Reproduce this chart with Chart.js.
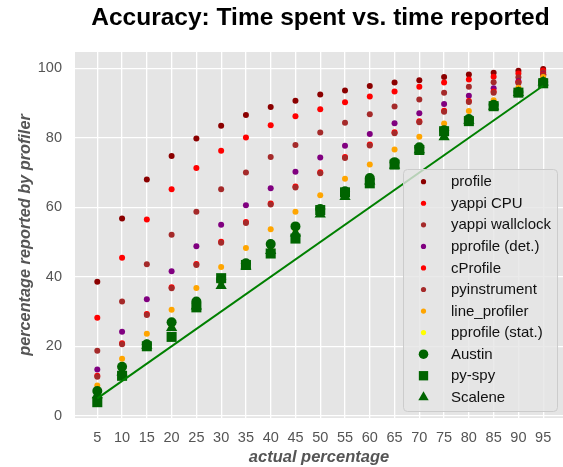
<!DOCTYPE html>
<html>
<head>
<meta charset="utf-8">
<script src="https://cdn.jsdelivr.net/npm/chart.js@4.4.0/dist/chart.umd.min.js"></script>
<style>
  html, body { margin: 0; padding: 0; background: #fff; overflow: hidden; }
</style>
</head>
<body>
<canvas id="accuracy_canvas" width="563" height="467"></canvas>
<script>
// x categories / ticks
const actualPct = [5, 10, 15, 20, 25, 30, 35, 40, 45, 50, 55, 60, 65, 70, 75, 80, 85, 90, 95];
const yTicks = [0, 20, 40, 60, 80, 100];

// reported percentages
const profileVals     = [38.6, 56.8, 68.0, 74.8, 79.8, 83.5, 86.6, 88.9, 90.7, 92.5, 93.6, 94.9, 95.9, 96.6, 97.5, 98.2, 98.7, 99.3, 99.8];
const yappiCpuVals    = [28.2, 45.5, 56.5, 65.2, 71.3, 76.3, 80.1, 83.6, 86.2, 88.2, 90.2, 91.9, 93.3, 94.7, 95.9, 96.8, 97.6, 98.5, 99.3];
const yappiWallVals   = [18.7, 32.9, 43.6, 52.1, 58.7, 65.2, 70.0, 74.5, 77.9, 81.5, 84.3, 86.8, 89.0, 91.0, 93.0, 94.7, 96.0, 97.4, 98.8];
const pprofileDetVals = [13.3, 24.2, 33.5, 41.6, 48.8, 55.0, 60.6, 65.5, 70.2, 74.3, 77.7, 81.1, 84.2, 87.1, 89.7, 92.1, 94.3, 96.3, 98.3];
const cProfileVals    = [11.5, 20.9, 29.3, 37.0, 43.7, 50.1, 55.8, 61.1, 66.0, 70.1, 74.5, 78.1, 81.6, 84.8, 87.8, 90.6, 93.3, 96.0, 98.2];
const pyinstrVals     = [11.2, 20.6, 29.0, 36.7, 43.4, 49.8, 55.5, 60.8, 65.7, 69.8, 74.2, 77.8, 81.3, 84.5, 87.5, 90.3, 93.0, 95.8, 98.0];
const lineProfVals    = [8.7, 16.4, 23.6, 30.5, 36.8, 42.8, 48.3, 53.7, 58.7, 63.5, 68.2, 72.3, 76.6, 80.3, 84.1, 87.7, 90.8, 94.4, 97.5];
const pprofileStatVals= [6.5, 13.0, 20.3, 25.5, 32.0, 38.5, 43.5, 48.5, 53.5, 59.0, 64.0, 68.0, 72.5, 77.0, 81.5, 85.2, 89.3, 93.1, 96.0];
const austinVals      = [7.1, 14.1, 20.6, 26.9, 32.9, 39.2, 43.9, 49.4, 54.5, 59.5, 64.6, 68.4, 73.0, 77.3, 82.2, 85.4, 89.5, 93.2, 96.1];
const pySpyVals       = [3.9, 11.5, 20.0, 22.7, 31.2, 39.6, 43.4, 46.7, 51.0, 59.2, 64.3, 66.9, 72.3, 76.5, 81.9, 84.8, 89.1, 93.0, 95.7];
const scaleneVals     = [6.0, 12.5, 20.2, 25.3, 31.5, 37.4, 43.0, 47.5, 52.5, 58.0, 63.0, 67.5, 72.0, 76.5, 80.2, 85.0, 89.0, 93.0, 96.0];

// ideal diagonal
const diagX = [5, 95];
const diagY = [5, 95];

const GRAY = '#555555';
const FONT = "'Liberation Sans', Arial, sans-serif";
const TITLE = 'Accuracy: Time spent vs. time reported';

function pts(vals) {
  return actualPct.map((x, i) => ({x: x, y: vals[i]}));
}

const series = [
  {label: 'profile',          vals: profileVals,      color: '#8B0000', style: 'circle',   r: 3.0, lr: 2.6},
  {label: 'yappi CPU',        vals: yappiCpuVals,     color: '#FF0000', style: 'circle',   r: 3.0, lr: 2.6},
  {label: 'yappi wallclock',  vals: yappiWallVals,    color: '#A52A2A', style: 'circle',   r: 3.0, lr: 2.6},
  {label: 'pprofile (det.)',  vals: pprofileDetVals,  color: '#800080', style: 'circle',   r: 3.0, lr: 2.6},
  {label: 'cProfile',         vals: cProfileVals,     color: '#FF0000', style: 'circle',   r: 3.0, lr: 2.6},
  {label: 'pyinstrument',     vals: pyinstrVals,      color: '#A52A2A', style: 'circle',   r: 3.0, lr: 2.6},
  {label: 'line_profiler',    vals: lineProfVals,     color: '#FFA500', style: 'circle',   r: 3.0, lr: 2.6},
  {label: 'pprofile (stat.)', vals: pprofileStatVals, color: '#FFFF00', style: 'circle',   r: 3.0, lr: 2.6},
  {label: 'Austin',           vals: austinVals,       color: '#006400', style: 'circle',   r: 5.0, lr: 4.8},
  {label: 'py-spy',           vals: pySpyVals,        color: '#006400', style: 'rect',     r: 7.1, lr: 6.6},
  {label: 'Scalene',          vals: scaleneVals,      color: '#006400', style: 'triangle', r: 6.5, lr: 6.0}
];

const N = series.length + 1;
const datasets = series.map((s, i) => ({
  label: s.label,
  data: pts(s.vals),
  backgroundColor: s.color,
  borderColor: s.color,
  pointStyle: s.style,
  pointRadius: s.r,
  pointBorderWidth: 0,
  legendRadius: s.lr,
  inLegend: true,
  order: N - i
}));
datasets.push({
  label: 'ideal',
  type: 'line',
  data: diagX.map((x, i) => ({x: x, y: diagY[i]})),
  borderColor: '#008000',
  borderWidth: 2,
  pointRadius: 0,
  showLine: true,
  inLegend: false,
  order: 0
});

// grey panel behind the plot + title centred over it
const panelBg = {
  id: 'panelBg',
  beforeDraw(chart) {
    const {ctx, chartArea: a} = chart;
    ctx.save();
    ctx.fillStyle = '#E5E5E5';
    ctx.fillRect(a.left, a.top, a.right - a.left, a.bottom - a.top);
    ctx.fillStyle = '#000000';
    ctx.font = 'bold 24.5px ' + FONT;
    ctx.textAlign = 'center';
    ctx.textBaseline = 'alphabetic';
    ctx.fillText(TITLE, (a.left + a.right) / 2 + 1.5, 25);
    ctx.restore();
  }
};

// legend drawn inside the plot, lower right
const insideLegend = {
  id: 'insideLegend',
  afterDatasetsDraw(chart) {
    const {ctx, chartArea: a} = chart;
    const items = chart.data.datasets.filter(d => d.inLegend);
    const w = 154, rowH = 21.56;
    const h = 242;
    const x0 = 403, y0 = a.bottom - 7 - h;
    ctx.save();
    ctx.beginPath();
    ctx.roundRect(x0 + 0.5, y0 + 0.5, w, h, 4);
    ctx.fillStyle = 'rgba(229,229,229,0.8)';
    ctx.fill();
    ctx.strokeStyle = '#CCCCCC';
    ctx.lineWidth = 1;
    ctx.stroke();
    ctx.font = '15px ' + FONT;
    ctx.textBaseline = 'middle';
    items.forEach((d, i) => {
      const cy = y0 + 12.7 + i * rowH;
      ctx.fillStyle = d.backgroundColor;
      Chart.helpers.drawPoint(ctx, {pointStyle: d.pointStyle, radius: d.legendRadius, rotation: 0, borderWidth: 0}, x0 + 20.5, cy);
      ctx.fillStyle = '#111111';
      ctx.fillText(d.label, x0 + 48, cy + 0.5);
    });
    ctx.restore();
  }
};

const ctx = document.getElementById('accuracy_canvas');
new Chart(ctx, {
  type: 'scatter',
  data: {datasets: datasets},
  plugins: [panelBg, insideLegend],
  options: {
    responsive: false,
    animation: false,
    devicePixelRatio: 1,
    layout: {autoPadding: false, padding: {top: 52, left: 0, right: 0, bottom: 0}},
    plugins: {
      legend: {display: false},
      tooltip: {enabled: false},
      title: {display: false}
    },
    scales: {
      x: {
        type: 'linear',
        min: 0.5,
        max: 99,
        afterBuildTicks: (axis) => { axis.ticks = actualPct.map(v => ({value: v})); },
        afterFit: (axis) => { axis.height = 49; axis.paddingLeft = 0; axis.paddingRight = 0; },
        grid: {color: '#FFFFFF', lineWidth: 1.3, drawTicks: false},
        border: {display: false},
        ticks: {color: GRAY, padding: 11, autoSkip: false, maxRotation: 0, font: {family: FONT, size: 14.5}},
        title: {
          display: true,
          text: 'actual percentage',
          color: GRAY,
          font: {family: FONT, size: 16.5, weight: 'bold', style: 'italic'},
          padding: {top: 0, bottom: 0}
        }
      },
      y: {
        type: 'linear',
        min: -0.65,
        max: 104.7,
        afterBuildTicks: (axis) => { axis.ticks = yTicks.map(v => ({value: v})); },
        afterFit: (axis) => { axis.width = 75; axis.paddingTop = 0; axis.paddingBottom = 0; },
        grid: {color: '#FFFFFF', lineWidth: 1.3, drawTicks: false},
        border: {display: false},
        ticks: {color: GRAY, padding: 13, font: {family: FONT, size: 14.5}},
        title: {
          display: true,
          text: 'percentage reported by profiler',
          color: GRAY,
          font: {family: FONT, size: 16.3, weight: 'bold', style: 'italic'},
          padding: {top: 15.7, bottom: 0}
        }
      }
    }
  }
});
</script>
</body>
</html>
